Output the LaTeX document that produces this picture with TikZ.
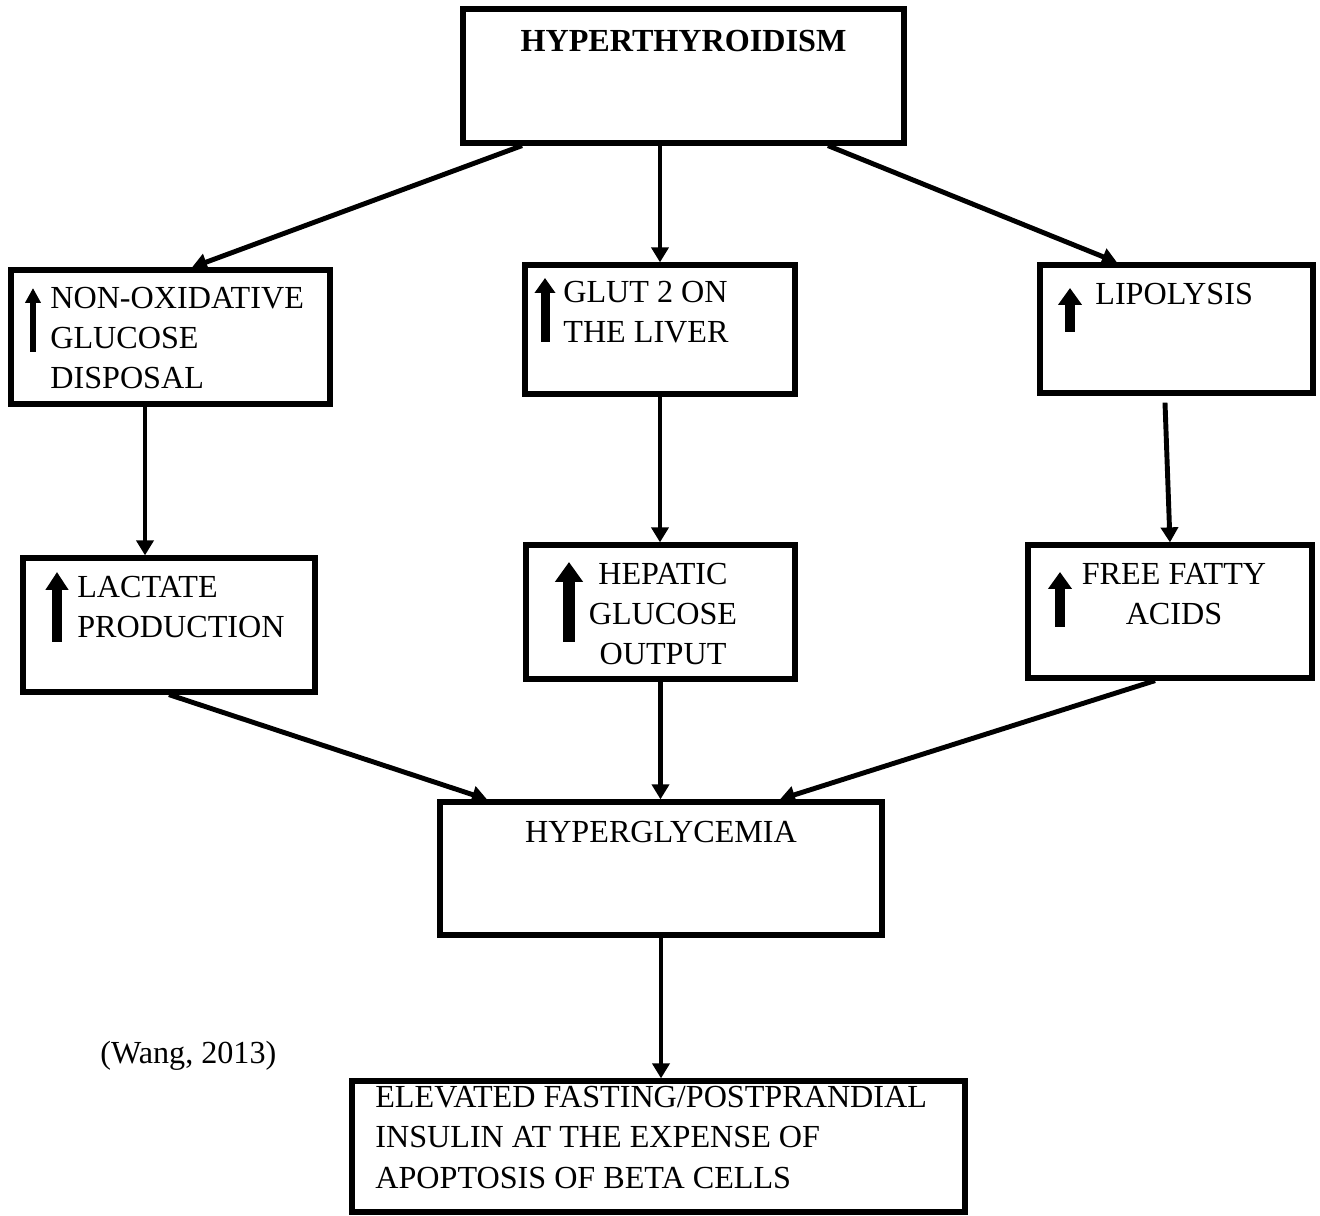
\documentclass[tikz,border=0pt]{standalone}
\usepackage{fontspec}
\setmainfont{Liberation Serif}
\usetikzlibrary{arrows.meta}

\begin{document}
\begin{tikzpicture}[x=0.02cm, y=-0.02cm,
    box/.style={draw, line width=3pt, inner sep=0pt},
    txt/.style={inner sep=0pt, align=left, font=\fontsize{18.3}{23}\selectfont},
    link/.style={line width=2.8pt, -{Triangle[width=0.34cm,length=0.3cm]}},
    incr/.style n args={3}{line width=#1, -{Triangle[width=#2,length=#3]}}]
    \useasboundingbox (0, 0) rectangle (1320, 1216);
    % boxes
    \node[box, minimum width=8.82cm, minimum height=2.68cm] (hyper) at (683.5, 76) {};
    \node[box, minimum width=6.38cm, minimum height=2.68cm] (nonox) at (170.5, 337) {};
    \node[box, minimum width=5.4cm, minimum height=2.58cm] (glut) at (660, 329.5) {};
    \node[box, minimum width=5.46cm, minimum height=2.56cm] (lipo) at (1176.5, 329) {};
    \node[box, minimum width=5.84cm, minimum height=2.68cm] (lact) at (169, 625) {};
    \node[box, minimum width=5.38cm, minimum height=2.68cm] (hepa) at (660.5, 612) {};
    \node[box, minimum width=5.68cm, minimum height=2.66cm] (ffa) at (1170, 611.5) {};
    \node[box, minimum width=8.84cm, minimum height=2.66cm] (hyperg) at (661, 868.5) {};
    \node[box, minimum width=12.26cm, minimum height=2.62cm] (elev) at (658.5, 1146.5) {};
    % texts (base = last line)
    \node[txt, anchor=base] (thyro) at (683.5, 52) {\textbf{HYPERTHYROIDISM}};
    \node[txt, anchor=base west] (tnonox) at (50, 389) {NON-OXIDATIVE\\GLUCOSE\\DISPOSAL};
    \node[txt, anchor=base west] (tglut) at (563, 343) {GLUT 2 ON\\THE LIVER};
    \node[txt, anchor=base west] (tlipo) at (1095, 305) {LIPOLYSIS};
    \node[txt, anchor=base west] (tlact) at (77, 638) {LACTATE\\PRODUCTION};
    \node[txt, anchor=base, align=center] (thepa) at (663, 665) {HEPATIC\\GLUCOSE\\OUTPUT};
    \node[txt, anchor=base, align=center] (tffa) at (1174, 625) {FREE FATTY\\ACIDS};
    \node[txt, anchor=base] (thyperg) at (661, 843) {HYPERGLYCEMIA};
    \node[txt, anchor=base west] (telev) at (375, 1188) {ELEVATED FASTING/POSTPRANDIAL\\INSULIN AT THE EXPENSE OF\\APOPTOSIS OF BETA CELLS};
    \node[txt, anchor=base west] (cite) at (100, 1063) {(Wang, 2013)};
    % small up arrows
    \draw[incr={0.14cm}{0.3cm}{0.3cm}] (33, 352) -- (33, 288);
    \draw[incr={0.18cm}{0.4cm}{0.3cm}] (545, 342) -- (545, 278);
    \draw[incr={0.2cm}{0.46cm}{0.34cm}] (1070, 332) -- (1070, 288);
    \draw[incr={0.2cm}{0.44cm}{0.36cm}] (57, 642) -- (57, 572);
    \draw[incr={0.24cm}{0.54cm}{0.4cm}] (569, 642) -- (569, 562);
    \draw[incr={0.2cm}{0.46cm}{0.34cm}] (1060, 627) -- (1060, 572);
    % connectors
    \draw[link] ([xshift=-3.23cm]hyper.south) -- ([xshift=0.43cm]nonox.north);
    \draw[link] (glut.north |- hyper.south) -- (glut.north);
    \draw[link] ([xshift=2.89cm]hyper.south) -- ([xshift=-1.19cm]lipo.north);
    \draw[link] ([xshift=-0.51cm]nonox.south) -- ([xshift=-0.51cm]nonox.south |- lact.north);
    \draw[link] (glut.south) -- (glut.south |- hepa.north);
    \draw[link] ([xshift=-0.23cm, yshift=-0.14cm]lipo.south) -- (ffa.north);
    \draw[link] (lact.south) -- ([xshift=-3.48cm]hyperg.north);
    \draw[link] (hepa.south) -- (hepa.south |- hyperg.north);
    \draw[link] ([xshift=-0.3cm]ffa.south) -- ([xshift=2.38cm]hyperg.north);
    \draw[link] (hyperg.south) -- (hyperg.south |- elev.north);
\end{tikzpicture}
\end{document}
